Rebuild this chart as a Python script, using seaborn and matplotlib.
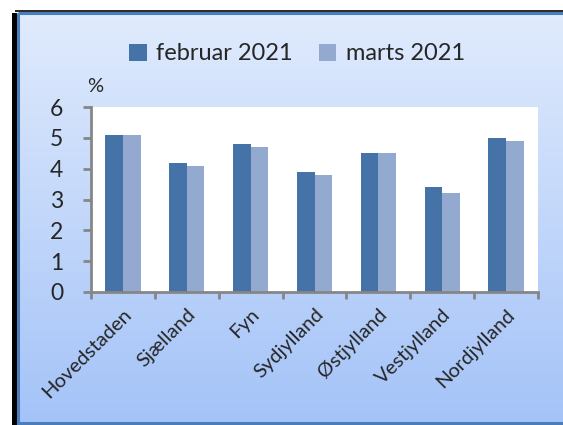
import numpy as np
import pandas as pd
import matplotlib
matplotlib.use("Agg")
import matplotlib.pyplot as plt
from matplotlib.patches import Rectangle, Patch
import seaborn as sns

regions = ["Hovedstaden", "Sjælland", "Fyn", "Sydjylland", "Østjylland", "Vestjylland", "Nordjylland"]
feb_2021 = [5.1, 4.2, 4.8, 3.9, 4.5, 3.4, 5.0]
mar_2021 = [5.1, 4.1, 4.7, 3.8, 4.5, 3.2, 4.9]
series_names = ["februar 2021", "marts 2021"]
yticks = [0, 1, 2, 3, 4, 5, 6]

df = pd.DataFrame({
    "region": regions * 2,
    "month": [series_names[0]] * len(regions) + [series_names[1]] * len(regions),
    "value": feb_2021 + mar_2021,
})

sns.set_theme(style="white")
plt.rcParams["font.family"] = ["Lato", "DejaVu Sans"]

W, H = 563, 425
fig = plt.figure(figsize=(W / 100, H / 100), dpi=100)
fig.patch.set_facecolor("white")

# background frame with gradient
bg = fig.add_axes([0, 0, 1, 1], zorder=-10)
bg.set_xlim(0, W)
bg.set_ylim(H, 0)
bg.axis("off")
top_c = np.array([224, 235, 253]) / 255
bot_c = np.array([164, 195, 248]) / 255
t = np.linspace(0, 1, 256)[:, None]
grad = (top_c[None, :] * (1 - t) + bot_c[None, :] * t)[:, None, :]
bg.imshow(grad, extent=(17, W + 20, 424, 13), aspect="auto", interpolation="bilinear", zorder=0)
bg.add_patch(Rectangle((12, 13), 5, 415, facecolor="black", edgecolor="none", zorder=1))
bg.add_patch(Rectangle((15, 10), W + 20, 2, facecolor="#2b2b2b", edgecolor="none", zorder=1))
bg.add_patch(Rectangle((17.5, 13), W + 40, 410, facecolor="none", edgecolor="#4a7ebb", lw=2.2, zorder=2))
bg.set_xlim(0, W)
bg.set_ylim(H, 0)

# main axes
ax = fig.add_axes([91 / W, 1 - 292 / H, (538 - 91) / W, (292 - 107) / H])
ax.set_facecolor("white")
colors = ["#4572a7", "#93a9cf"]
sns.barplot(data=df, x="region", y="value", hue="month", palette=colors,
            width=0.553, saturation=1, ax=ax, legend=False, edgecolor="none")

ax.set_ylim(0, 6)
ax.set_xlim(-0.5, len(regions) - 0.5)
ax.set_yticks(yticks)
ax.set_yticklabels([str(v) for v in yticks], fontsize=16.5)
ax.set_xlabel("")
ax.set_ylabel("")

# x ticks: marks at category boundaries, labels at centers
ax.set_xticks(np.arange(-0.5, len(regions), 1.0))
ax.set_xticklabels([])
ax.set_xticks(np.arange(len(regions)), minor=True)
ax.set_xticklabels(regions, minor=True, rotation=45, ha="right", rotation_mode="anchor", fontsize=14.5)
ax.tick_params(axis="x", which="major", direction="out", length=5, width=2, color="#868686", bottom=True)
ax.tick_params(axis="x", which="minor", length=0, pad=10, bottom=True)
ax.tick_params(axis="y", direction="out", length=6, width=2, color="#868686", pad=14, left=True)

for s in ["top", "right"]:
    ax.spines[s].set_visible(False)
for s in ["left", "bottom"]:
    ax.spines[s].set_color("#868686")
    ax.spines[s].set_linewidth(2)

fig.text(95 / W, 1 - 87 / H, "%", fontsize=14.5, ha="center", va="center")

handles = [Patch(facecolor=c, edgecolor="none") for c in colors]
fig.legend(handles, series_names, loc="center", bbox_to_anchor=(297 / W, 1 - 54 / H),
           ncol=2, frameon=False, fontsize=17, handlelength=0.75, handleheight=0.7,
           handletextpad=0.4, columnspacing=1.1)

fig.savefig("out.png", dpi=100)
